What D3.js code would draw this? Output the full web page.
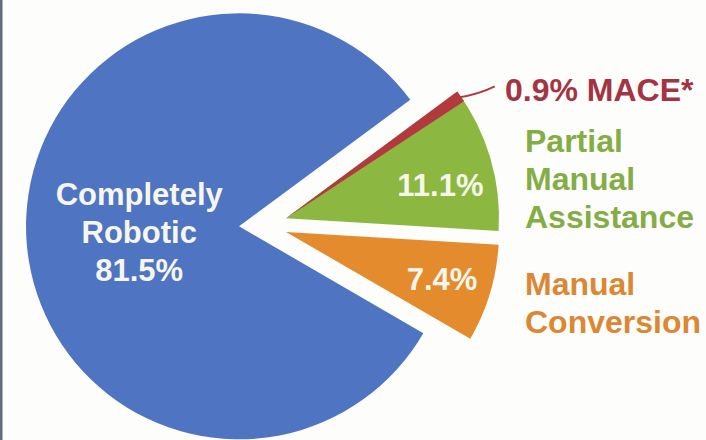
<!DOCTYPE html>
<html>
<head>
<meta charset="utf-8">
<script src="https://cdn.jsdelivr.net/npm/d3@7"></script>
<style>
  html, body { margin: 0; padding: 0; background: #fdfdfb; }
  svg { display: block; }
  text { font-family: "Liberation Sans", Arial, Helvetica, sans-serif; font-weight: bold; }
</style>
</head>
<body>
<svg id="chart" width="706" height="440"></svg>
<script>
// Outcome of robotic procedures (% of cases)
const categories = ["Partial Manual Assistance", "Manual Conversion", "Completely Robotic"];
const shares = [11.1, 7.4, 81.5];
const maceLabel = "MACE*";
const maceShare = 0.9;

// Label text, split into lines
const outsideLines = [["Partial", "Manual", "Assistance"], ["Manual", "Conversion"], null];
const insideLines = [null, null, ["Completely", "Robotic"]];

const colors = ["#8cb841", "#e38b2d", "#4f74c1"];
const textColors = ["#84ad45", "#dc8733", null];
const maceColor = "#b23a3f";
const maceTextColor = "#a53443";

const W = 706, H = 440;
const cx = 263, cy = 225;       // pie centre
const radius = 213;
const explode = 24;             // every slice is pulled out along its bisector
const startDeg = 53.5;
const toRad = Math.PI / 180;

const svg = d3.select("#chart");
svg.append("rect").attr("width", W).attr("height", H).attr("fill", "#fdfdfb");
svg.append("rect").attr("x", 0).attr("y", 0).attr("width", 2.5).attr("height", H).attr("fill", "#5f6d7c");

const pie = d3.pie()
  .sort(null)
  .value(d => d)
  .startAngle(startDeg * toRad)
  .endAngle(startDeg * toRad + 2 * Math.PI);

const arcs = pie(shares);
const arc = d3.arc().innerRadius(0).outerRadius(radius);

const mid = d => (d.startAngle + d.endAngle) / 2;
const offset = (d, r) => [Math.sin(mid(d)) * r, -Math.cos(mid(d)) * r];

const root = svg.append("g").attr("transform", `translate(${cx},${cy})`);

const slices = root.selectAll("g.slice")
  .data(arcs)
  .join("g")
  .attr("class", "slice")
  .attr("transform", d => {
    const [dx, dy] = offset(d, explode);
    return `translate(${dx},${dy})`;
  });

slices.append("path")
  .attr("d", arc)
  .attr("fill", (d, i) => colors[i]);

// MACE sliver sits on the leading edge of the partial-assistance slice
const green = arcs[0];
const maceArc = {
  startAngle: green.startAngle,
  endAngle: green.startAngle + maceShare / 100 * 2 * Math.PI
};
const greenG = d3.select(slices.nodes()[0]);
greenG.append("path")
  .attr("d", arc(maceArc))
  .attr("fill", maceColor);

// leader line from the sliver tip to its label
const maceMid = (maceArc.startAngle + maceArc.endAngle) / 2;
const tip = [Math.sin(maceMid) * radius, -Math.cos(maceMid) * radius];
greenG.append("path")
  .attr("d", `M${tip[0] - 2},${tip[1] + 1} Q${tip[0] + 18},${tip[1] - 2} ${tip[0] + 34},${tip[1] - 10}`)
  .attr("fill", "none")
  .attr("stroke", maceColor)
  .attr("stroke-width", 2);

// value labels inside the slices: [radius, angle shift in degrees]
const insidePos = [[158, 4.3], [163, 0], [100, 0]];
const fmt = v => d3.format(".1f")(v) + "%";

slices.each(function (d, i) {
  const g = d3.select(this);
  const [r, shift] = insidePos[i];
  const a = mid(d) + shift * toRad;
  const x = Math.sin(a) * r, y = -Math.cos(a) * r;
  const lines = (insideLines[i] || []).concat([fmt(d.data)]);
  const lh = 38;
  const t = g.append("text")
    .attr("text-anchor", "middle")
    .attr("fill", "#f6f6ea")
    .attr("font-size", 31);
  lines.forEach((s, k) => {
    t.append("tspan")
      .attr("x", x)
      .attr("y", y + 11 + (k - (lines.length - 1) / 2) * lh)
      .text(s);
  });
});

// category labels to the right of the pie
const labelX = 525;
const outsideTop = [152, 295, null];
outsideLines.forEach((lines, i) => {
  if (!lines) return;
  const t = svg.append("text")
    .attr("fill", textColors[i])
    .attr("font-size", 32);
  lines.forEach((s, k) => {
    t.append("tspan").attr("x", labelX).attr("y", outsideTop[i] + k * 38).text(s);
  });
});

svg.append("text")
  .attr("x", 505)
  .attr("y", 101)
  .attr("fill", maceTextColor)
  .attr("font-size", 32)
  .text(fmt(maceShare) + " " + maceLabel);
</script>
</body>
</html>
